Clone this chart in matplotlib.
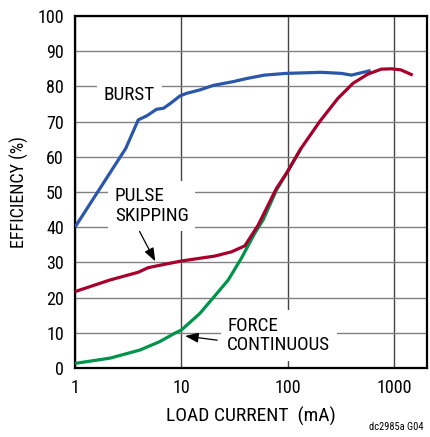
import numpy as np
import matplotlib
matplotlib.use('Agg')
import matplotlib.pyplot as plt
import matplotlib.font_manager as fm

# narrow font like the Helvetica Condensed of the original, if one is around
font_family, font_stretch, scale = 'Liberation Sans', 'normal', 0.9
_fonts = fm.fontManager.ttflist
if any(f.name == 'Liberation Sans Narrow' for f in _fonts):
    font_family, scale = 'Liberation Sans Narrow', 1.0
else:
    for fam in ['Roboto Condensed', 'Open Sans Condensed', 'Noto Sans', 'DejaVu Sans', 'Open Sans', 'Roboto']:
        hit = [f for f in _fonts if f.name == fam and f.stretch in ('condensed', 'semi-condensed')
               and f.style == 'normal' and f.weight in (400, 'normal', 'regular')]
        if hit:
            font_family, font_stretch, scale = fam, hit[0].stretch, 1.0
            break
plt.rcParams['font.family'] = [font_family, 'DejaVu Sans']
plt.rcParams['font.stretch'] = font_stretch
tick_size = 13 * scale
xlab_size = 14 * scale
note_size = 13.8 * scale

# load current (mA) / efficiency (%)
burst_x = [1, 3.0, 3.93, 4.7, 5.84, 6.8, 7.9, 9.7, 11.1, 14.9, 20, 30, 42, 60, 97, 207, 318, 396, 493, 600]
burst_y = [40, 62.4, 70.5, 71.6, 73.5, 73.8, 75.2, 77.3, 78, 79, 80.3, 81.3, 82.3, 83.2, 83.7, 84, 83.7, 83.2, 83.9, 84.5]

pulse_x = [1, 2.13, 3.93, 4.87, 5.84, 10, 20.6, 29.5, 39.4, 52.6, 78, 97, 133, 199, 295, 410, 565, 754, 937, 1150, 1490]
pulse_y = [21.7, 25, 27.2, 28.5, 29, 30.4, 31.8, 33, 34.7, 40.6, 51, 55.3, 62.4, 70, 76.6, 80.9, 83.5, 84.9, 85, 84.7, 83.2]

force_x = [1, 2.13, 4.07, 6.26, 8.68, 10, 14.9, 20.6, 27.5, 36.6, 48.9, 58.4, 78, 97, 133]
force_y = [1.3, 2.8, 5.1, 7.5, 9.9, 10.8, 15.5, 20.5, 25, 31.2, 38.3, 42, 50.5, 55.3, 62.4]

fig = plt.figure(figsize=(4.3, 4.37), dpi=100)
ax = fig.add_axes([0.1744, 0.1579, 0.8179, 0.8055])

ax.plot(force_x, force_y, color='#00944a', lw=2.3, zorder=3, solid_capstyle='butt')
ax.plot(burst_x, burst_y, color='#2b57ab', lw=2.3, zorder=4, solid_capstyle='butt')
ax.plot(pulse_x, pulse_y, color='#a8002c', lw=2.3, zorder=5, solid_capstyle='butt')

ax.set_xscale('log')
ax.set_xlim(1, 2014)
ax.set_ylim(0, 100)
ax.set_yticks(np.arange(0, 101, 10))
ax.set_xticks([1, 10, 100, 1000])
ax.set_xticklabels(['1', '10', '100', '1000'])
ax.minorticks_off()
ax.tick_params(length=0, labelsize=tick_size, pad=8)
ax.yaxis.grid(True, color='#808080', lw=1.0)
ax.xaxis.grid(True, color='#444444', lw=1.0)
ax.set_axisbelow(True)
for s in ax.spines.values():
    s.set_linewidth(1.6)
    s.set_color('black')

ax.set_xlabel('LOAD CURRENT  (mA)', fontsize=xlab_size, labelpad=7)
ax.set_ylabel('EFFICIENCY (%)', fontsize=tick_size, labelpad=6)

# white boxes break the grid but sit under the curves
box = dict(boxstyle='square,pad=0.35', fc='white', ec='none')
ax.text(1.87, 77.6, 'BURST', fontsize=note_size, ha='left', va='center', bbox=box, zorder=2)
ax.text(2.37, 46.0, 'PULSE\nSKIPPING', fontsize=note_size, ha='left', va='center',
        linespacing=1.1, bbox=box, zorder=2)
ax.text(27.0, 9.2, 'FORCE\nCONTINUOUS', fontsize=note_size, ha='left', va='center',
        linespacing=1.1, bbox=box, zorder=2)

arrow = dict(arrowstyle='-|>,head_length=0.8,head_width=0.3', color='black', lw=0.9)
ax.annotate('', xy=(5.84, 29.6), xytext=(3.93, 39.5), arrowprops=arrow, zorder=7)
ax.annotate('', xy=(10.2, 9.2), xytext=(23.0, 7.8), arrowprops=arrow, zorder=1.5)

fig.text(0.985, 0.012, 'dc2985a G04', fontsize=7.5, ha='right', va='bottom')

fig.savefig('out.png', dpi=100)
